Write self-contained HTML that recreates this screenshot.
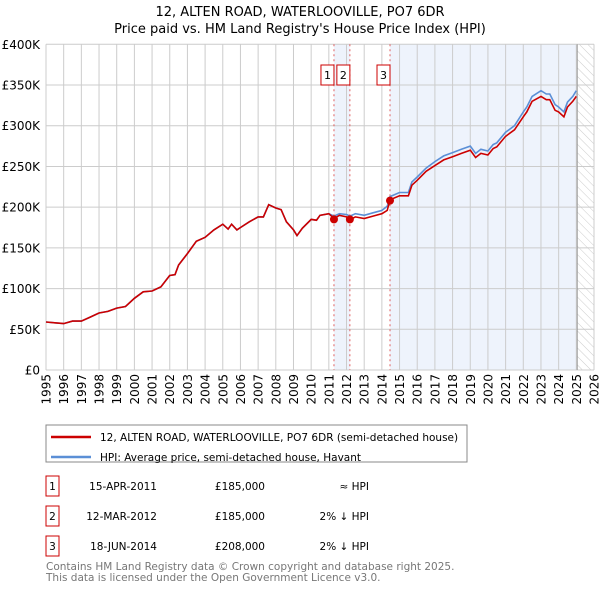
<!DOCTYPE html>
<html><head><meta charset="utf-8"><style>
body{margin:0;background:#fff;font-family:"Liberation Sans","DejaVu Sans",sans-serif;}
svg text{font-family:"DejaVu Sans","Liberation Sans",sans-serif;}
</style></head><body>
<svg id="c" width="600" height="590" xmlns="http://www.w3.org/2000/svg">
<defs><pattern id="hatch" width="6" height="6" patternUnits="userSpaceOnUse" patternTransform="rotate(-45)"><line x1="0" y1="0" x2="0" y2="6" stroke="#ccc" stroke-width="1"/></pattern></defs>
<text x="300" y="16" text-anchor="middle" font-size="13" fill="#000">12, ALTEN ROAD, WATERLOOVILLE, PO7 6DR</text>
<text x="300" y="33" text-anchor="middle" font-size="13" fill="#000">Price paid vs. HM Land Registry's House Price Index (HPI)</text>
<g id="plot"></g>
<g>
<rect x="46" y="425" width="421" height="37" fill="#fff" stroke="#888"/>
<line x1="51" y1="437" x2="91" y2="437" stroke="#cc0000" stroke-width="2.5"/>
<text x="100" y="441" font-size="10.5">12, ALTEN ROAD, WATERLOOVILLE, PO7 6DR (semi-detached house)</text>
<line x1="51" y1="457" x2="91" y2="457" stroke="#5b8fd6" stroke-width="2.5"/>
<text x="100" y="461" font-size="10.5">HPI: Average price, semi-detached house, Havant</text>
</g>
<g font-size="10.5">
<rect x="46" y="476" width="13" height="20" fill="#fff" stroke="#cc0000"/><text x="52.5" y="490" text-anchor="middle">1</text>
<text x="157" y="490" text-anchor="end">15-APR-2011</text><text x="265" y="490" text-anchor="end">£185,000</text><text x="369" y="490" text-anchor="end">≈ HPI</text>
<rect x="46" y="506" width="13" height="20" fill="#fff" stroke="#cc0000"/><text x="52.5" y="520" text-anchor="middle">2</text>
<text x="157" y="520" text-anchor="end">12-MAR-2012</text><text x="265" y="520" text-anchor="end">£185,000</text><text x="369" y="520" text-anchor="end">2% ↓ HPI</text>
<rect x="46" y="536" width="13" height="20" fill="#fff" stroke="#cc0000"/><text x="52.5" y="550" text-anchor="middle">3</text>
<text x="157" y="550" text-anchor="end">18-JUN-2014</text><text x="265" y="550" text-anchor="end">£208,000</text><text x="369" y="550" text-anchor="end">2% ↓ HPI</text>
</g>
<text x="46" y="570" font-size="10.5" fill="#777">Contains HM Land Registry data © Crown copyright and database right 2025.</text>
<text x="46" y="581" font-size="10.5" fill="#777">This data is licensed under the Open Government Licence v3.0.</text>
</svg>
<script>
const years=[1995,1995.5,1996,1996.5,1997,1997.5,1998,1998.5,1999,1999.5,2000,2000.5,2001,2001.5,2002,2002.3,2002.5,2003,2003.5,2004,2004.5,2005,2005.3,2005.5,2005.8,2006,2006.5,2007,2007.3,2007.6,2008,2008.3,2008.6,2009,2009.2,2009.5,2010,2010.3,2010.5,2011,2011.3,2011.6,2012,2012.2,2012.5,2013,2013.5,2014,2014.3,2014.46,2015,2015.5,2015.7,2016,2016.5,2017,2017.5,2018,2018.5,2019,2019.3,2019.6,2020,2020.3,2020.5,2021,2021.5,2022,2022.2,2022.5,2023,2023.3,2023.5,2023.8,2024,2024.3,2024.5,2024.8,2025];
const priceK=[59,58,57,60,60,65,70,72,76,78,88,96,97,102,116,117,129,143,158,163,172,179,173,179,172,175,182,188,188,203,199,197,182,172,165,174,185,184,190,192,186,190,188,185,188,186,189,192,196,209,214,214,227,233,244,251,258,262,266,270,261,266,264,272,274,287,295,311,317,330,336,332,332,319,317,311,323,330,336];
const hpiK=[59,58,57,60,60,65,70,72,76,78,88,96,97,102,116,117,129,143,158,163,172,179,173,179,172,175,182,188,188,203,199,197,182,172,165,174,185,184,190,192,189,192,191,189,192,190,193,196,201,213,218,218,231,237,248,256,263,267,271,275,266,271,269,277,279,292,300,317,323,336,343,339,339,326,323,317,329,336,343];
const sales=[[2011.29,185],[2012.19,185],[2014.46,208]];
const yTicks=[0,50,100,150,200,250,300,350,400];
const X0=46,X1=594,Y0=370,Y1=44.3,ymin=1995,ymax=2026;
const sx=v=>X0+(v-ymin)/(ymax-ymin)*(X1-X0);
const sy=v=>Y0-v/400*(Y0-Y1);
const NS="http://www.w3.org/2000/svg",g=document.getElementById('plot');
function mk(t,a,p){const e=document.createElementNS(NS,t);for(const k in a)e.setAttribute(k,a[k]);(p||g).appendChild(e);return e;}
let e;
e=mk('rect',{x:sx(sales[0][0]),y:Y1,width:sx(sales[1][0])-sx(sales[0][0]),height:Y0-Y1,fill:'#eef3fc'});


e=mk('rect',{x:sx(sales[2][0]),y:Y1,width:sx(2025.05)-sx(sales[2][0]),height:Y0-Y1,fill:'#eef3fc'});


e=mk('rect',{x:sx(2025.05),y:Y1,width:X1-sx(2025.05),height:Y0-Y1,fill:'url(#hatch)'});


for(let y=ymin;y<=ymax;y++){
 e=mk('line',{x1:sx(y),x2:sx(y),y1:Y1,y2:Y0,stroke:'#ccc'});
 
 
 e=mk('text',{x:0,y:0,transform:`translate(${sx(y)+4.5},374) rotate(-90)`,'text-anchor':'end','font-size':12});
 e.textContent=y;
 
 
}
yTicks.forEach(v=>{
 e=mk('line',{x1:X0,x2:X1,y1:sy(v),y2:sy(v),stroke:'#ccc'});
 
 
 e=mk('text',{x:40,y:sy(v)+4.5,'text-anchor':'end','font-size':12});
 e.textContent=v===0?'£0':'£'+v+'K';
 
 
});
e=mk('line',{x1:sx(2025.05),x2:sx(2025.05),y1:Y1,y2:Y0,stroke:'#999'});


sales.forEach((s,i)=>{
 e=mk('line',{x1:sx(s[0]),x2:sx(s[0]),y1:Y1,y2:Y0,stroke:'#e06060','stroke-dasharray':'2,3'});
 
 
 e=mk('rect',{x:sx(s[0])-13,y:65,width:13,height:20,fill:'#fff',stroke:'#cc0000'});
 
 
 e=mk('text',{x:sx(s[0])-6.5,y:79,'text-anchor':'middle','font-size':11});
 e.textContent=i+1;
 
 
});
const pts=a=>years.map((y,i)=>sx(y).toFixed(1)+','+sy(a[i]).toFixed(1)).join(' ');
e=mk('polyline',{points:pts(hpiK),fill:'none',stroke:'#5b8fd6','stroke-width':1.6});


e=mk('polyline',{points:pts(priceK),fill:'none',stroke:'#cc0000','stroke-width':1.6});


sales.forEach(s=>{
 e=mk('circle',{cx:sx(s[0]),cy:sy(s[1]),r:4,fill:'#cc0000'});
 
 
});
</script>
</body></html>
